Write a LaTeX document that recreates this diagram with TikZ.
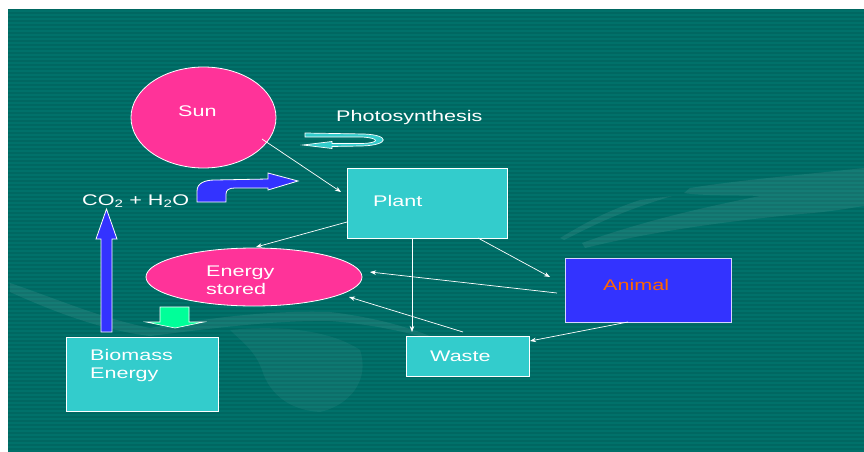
\documentclass[tikz,border=0pt]{standalone}
\usepackage{fontspec}
\setmainfont{Liberation Sans}[FakeStretch=1.4]
\usetikzlibrary{arrows.meta,shapes.geometric}

\definecolor{bgteal}{HTML}{006761}
\definecolor{bgstripe}{HTML}{00716A}
\definecolor{rosefill}{HTML}{FF3399}
\definecolor{cyanfill}{HTML}{33CCCC}
\definecolor{bluefill}{HTML}{3333FF}
\definecolor{greenfill}{HTML}{00FF99}
\definecolor{animaltext}{HTML}{FF6600}

\begin{document}
\begin{tikzpicture}[x=1pt,y=-1pt,
  txt/.style={text=white,font=\fontsize{15.4}{18}\selectfont,inner sep=0pt,align=left},
  boxshape/.style={draw=white,line width=0.9pt,fill=cyanfill,inner sep=0pt},
  roseshape/.style={ellipse,draw=white,line width=0.8pt,fill=rosefill,inner sep=0pt},
  conn/.style={draw=white,line width=0.7pt,-{Stealth[length=6pt,width=4.5pt]}},
  fatarrow/.style={draw=white,line width=0.8pt,line join=miter},
  ghost/.style={fill=white,fill opacity=0.08,draw=none}
]
\useasboundingbox (0,0) rectangle (864,452);

% slide background with fine horizontal stripes
\fill[white] (0,0) rectangle (864,452);
\fill[bgteal] (8,9) rectangle (864,452);
\foreach \yy in {10,14,...,450} \fill[bgstripe] (8,\yy) rectangle (864,\yy+1.6);

% faint hands in the background
\fill[ghost] (864,168) .. controls (800,175) and (740,180) .. (690,188)
  -- (684,193) .. controls (700,196) and (740,195) .. (760,196)
  .. controls (700,208) and (640,222) .. (582,243) -- (585,248)
  .. controls (650,232) and (720,222) .. (800,214)
  .. controls (830,212) and (850,208) .. (864,206) -- cycle;
\fill[ghost] (640,200) .. controls (610,210) and (590,220) .. (560,238)
  -- (564,240) .. controls (600,222) and (620,212) .. (672,196) -- cycle;
\fill[ghost] (10,283) .. controls (60,300) and (100,318) .. (150,328)
  .. controls (200,320) and (260,310) .. (330,312)
  .. controls (380,318) and (420,330) .. (450,345)
  .. controls (410,332) and (370,324) .. (330,321)
  .. controls (270,320) and (200,330) .. (150,336)
  .. controls (100,330) and (50,310) .. (10,292) -- cycle;
\fill[ghost,fill opacity=0.05] (230,330) .. controls (280,325) and (330,330) .. (360,350)
  .. controls (370,380) and (350,405) .. (320,412)
  .. controls (290,410) and (270,395) .. (262,370)
  .. controls (255,350) and (240,340) .. (230,330) -- cycle;

% main nodes
\node[roseshape,minimum width=145,minimum height=101] (sun) at (203.5,117.5) {};
\node[boxshape,minimum width=160,minimum height=70] (plant) at (427,203) {};
\node[roseshape,minimum width=216,minimum height=58] (energy) at (254,277) {};
\node[boxshape,fill=bluefill,draw=white!80!bluefill,minimum width=166,minimum height=64] (animal) at (648,290) {};
\node[boxshape,minimum width=123,minimum height=40] (waste) at (467.5,356) {};
\node[boxshape,minimum width=152,minimum height=74] (biomass) at (142,374) {};

% texts
\node[txt,anchor=west] (suntext) at (178,111) {Sun};
\node[txt,anchor=west] (phototext) at (336,118) {Photosynthesis};
\node[txt,anchor=west] (planttext) at (373,201) {Plant};
\node[txt,anchor=west] (energytext) at (206,280) {Energy\\stored};
\node[txt,anchor=west,text=animaltext] (animaltext) at (603,285) {Animal};
\node[txt,anchor=west] (wastetext) at (430,356) {Waste};
\node[txt,anchor=west] (biomasstext) at (90,366) {Biomass\\Energy};
\node[txt,anchor=west] (co2) at (82,201) {CO\textsubscript{2} + H\textsubscript{2}O};

% connector end points
\coordinate (sunout) at (262,139);
\coordinate (plantin) at (341,192);
\coordinate (plantleft) at (347,222);
\coordinate (energytop) at (256,247);
\coordinate (plantdown) at (412,238);
\coordinate (wastetop) at (412,332);
\coordinate (plantright) at (478,238);
\coordinate (animalin) at (550,277);
\coordinate (animalleft) at (557,293);
\coordinate (energyright) at (370,272);
\coordinate (wasteup) at (463,332);
\coordinate (energylow) at (349,297);
\coordinate (animalbottom) at (628,322);
\coordinate (wasteright) at (530,341);

% thin connectors
\draw[conn] (sunout) -- (plantin);
\draw[conn] (plantleft) -- (energytop);
\draw[conn] (plantdown) -- (wastetop);
\draw[conn] (plantright) -- (animalin);
\draw[conn] (animalleft) -- (energyright);
\draw[conn] (wasteup) -- (energylow);
\draw[conn] (animalbottom) -- (wasteright);

% circular arrow under Photosynthesis
\filldraw[fatarrow,fill=cyanfill,line width=0.7pt]
  (305,133) -- (364,134) .. controls (390,135) and (390,145) .. (362,146)
  -- (332,146.5) -- (332,148.5) -- (303,145) -- (332,141.5) -- (332,143.5)
  -- (362,143.5) .. controls (380,143) and (380,138) .. (362,137)
  -- (305,137) -- cycle;

% bent arrow from CO2 + H2O towards the plant
\filldraw[fatarrow,fill=bluefill]
  (197,202) -- (197,191) .. controls (197,183) and (205,180) .. (215,180)
  -- (268,179) -- (268,173) -- (298,181) -- (268,190) -- (268,188)
  -- (235,188) .. controls (229,188) and (226,190) .. (226,194)
  -- (226,202) -- cycle;

% upward arrow from biomass to CO2 + H2O
\filldraw[fatarrow,fill=bluefill]
  (101,332) -- (101,239) -- (96,239) -- (106.5,209) -- (117,239)
  -- (112,239) -- (112,332) -- cycle;

% downward arrow from stored energy to biomass
\filldraw[fatarrow,fill=greenfill,line width=0.6pt]
  (160,307) -- (189,307) -- (189,322) -- (204,322) -- (175,328)
  -- (146,322) -- (160,322) -- cycle;
\end{tikzpicture}
\end{document}
